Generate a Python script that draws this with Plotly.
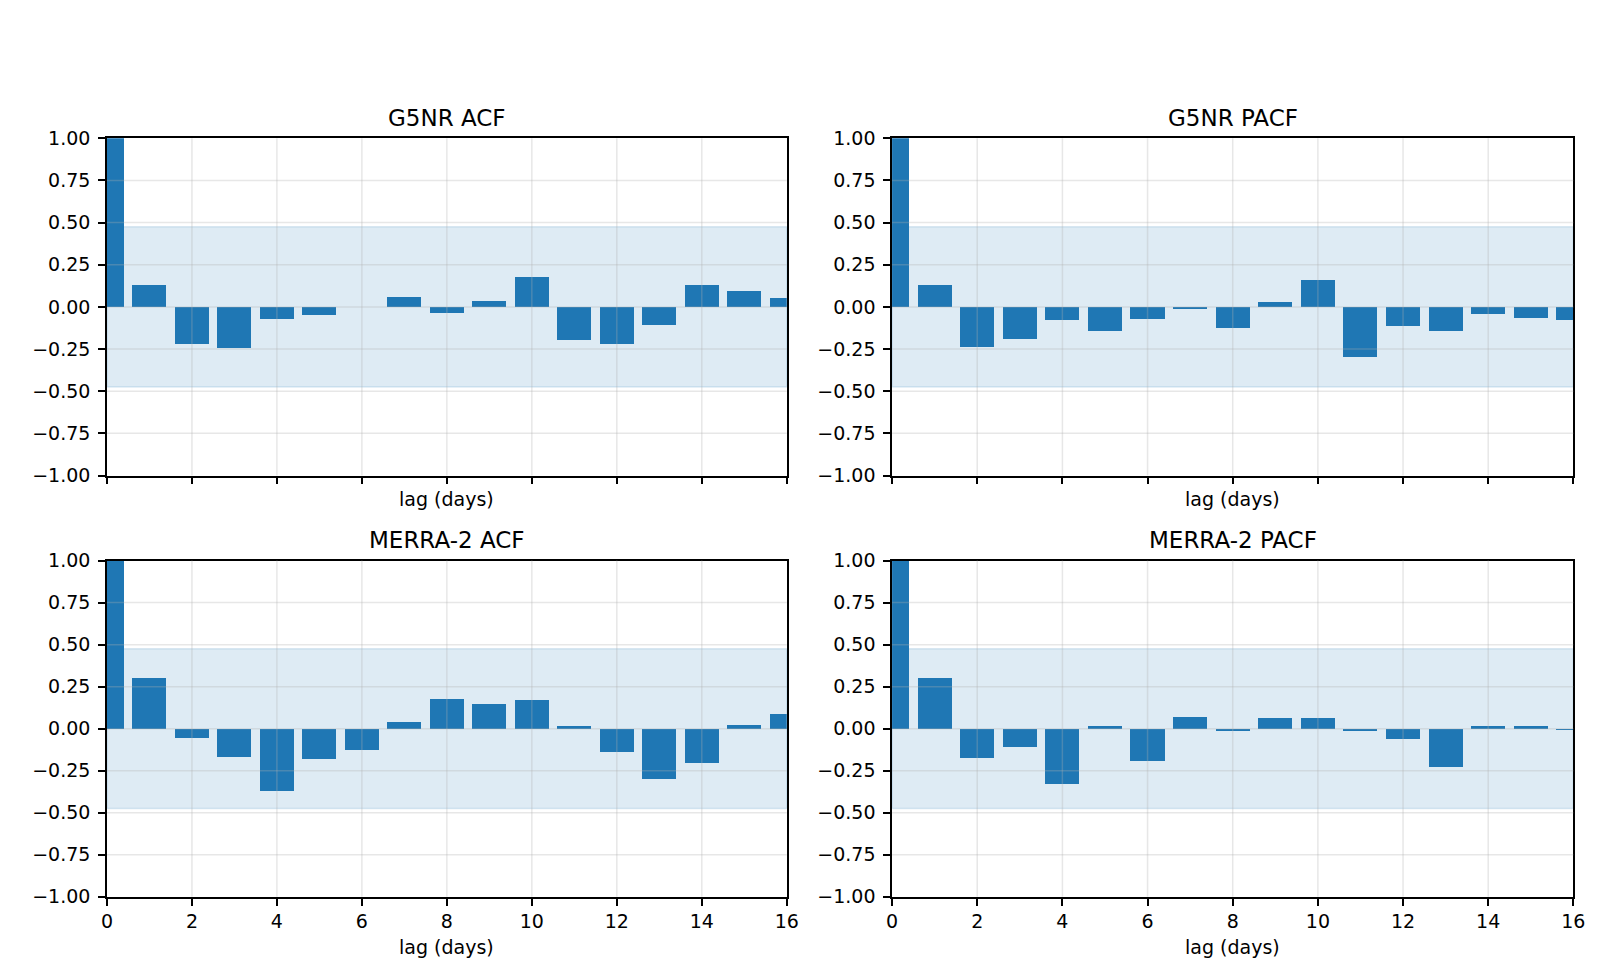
import plotly.graph_objects as go

# ---- data ----
lags = list(range(17))
g5nr_acf = [1.0, 0.126, -0.220, -0.244, -0.075, -0.052, 0.0, 0.056, -0.035, 0.033,
            0.178, -0.197, -0.220, -0.110, 0.126, 0.091, 0.050]
g5nr_pacf = [1.0, 0.126, -0.238, -0.191, -0.081, -0.145, -0.075, -0.017, -0.128, 0.027,
             0.155, -0.296, -0.116, -0.145, -0.046, -0.070, -0.078]
merra_acf = [1.0, 0.307, -0.052, -0.163, -0.367, -0.175, -0.122, 0.045, 0.178, 0.149,
             0.173, 0.016, -0.134, -0.297, -0.204, 0.027, 0.091]
merra_pacf = [1.0, 0.307, -0.169, -0.105, -0.326, 0.016, -0.192, 0.074, -0.012, 0.068,
              0.068, -0.006, -0.058, -0.227, 0.021, 0.021, -0.005]
conf_level = 0.475
titles = ["G5NR ACF", "G5NR PACF", "MERRA-2 ACF", "MERRA-2 PACF"]
series = [g5nr_acf, g5nr_pacf, merra_acf, merra_pacf]
x_ticks = [0, 2, 4, 6, 8, 10, 12, 14, 16]
y_ticks = [-1.0, -0.75, -0.5, -0.25, 0.0, 0.25, 0.5, 0.75, 1.0]
y_tick_text = ["\u22121.00", "\u22120.75", "\u22120.50", "\u22120.25", "0.00", "0.25", "0.50", "0.75", "1.00"]
x_label = "lag (days)"

W, H = 1610, 980
# panel pixel boxes: (left, right, top, bottom)
boxes = [(94, 781.5, 122, 467), (888, 1577, 122, 467),
         (94, 781.5, 554, 898), (888, 1577, 554, 898)]

BLUE = "#1f77b4"
FONT = "DejaVu Sans"
TICK_SIZE = 19
TITLE_SIZE = 23

fig = go.Figure()
shapes = []
annotations = []
for i, (vals, title, box) in enumerate(zip(series, titles, boxes)):
    n = i + 1
    xa = "x" if n == 1 else f"x{n}"
    ya = "y" if n == 1 else f"y{n}"
    l, r, t, b = box
    fig.add_trace(go.Bar(x=lags, y=vals, width=0.8, marker=dict(color=BLUE, line=dict(width=0)),
                         xaxis=xa, yaxis=ya, showlegend=False))
    bottom_row = i >= 2
    xkey = "xaxis" if n == 1 else f"xaxis{n}"
    ykey = "yaxis" if n == 1 else f"yaxis{n}"
    fig.update_layout({
        xkey: dict(domain=[l / W, r / W], anchor=ya, range=[0, 16], tickvals=x_ticks,
                   showticklabels=bottom_row, ticks="outside", ticklen=7, tickwidth=1.5,
                   tickcolor="black", showline=True, linecolor="black", linewidth=1.5,
                   mirror=True, showgrid=False, zeroline=False,
                   tickfont=dict(family=FONT, size=TICK_SIZE, color="black")),
        ykey: dict(domain=[(H - b) / H, (H - t) / H], anchor=xa, range=[-1, 1],
                   tickvals=y_ticks, ticktext=y_tick_text, ticks="outside", ticklen=7,
                   tickwidth=1.5, tickcolor="black", showline=True, linecolor="black",
                   linewidth=1.5, mirror=True, showgrid=False, zeroline=False,
                   ticklabelstandoff=4,
                   tickfont=dict(family=FONT, size=TICK_SIZE, color="black")),
    })
    # confidence band
    shapes.append(dict(type="rect", xref=f"{xa} domain", yref=ya, x0=0, x1=1,
                       y0=-conf_level, y1=conf_level, layer="below",
                       fillcolor="rgba(31,119,180,0.15)",
                       line=dict(color="rgba(31,119,180,0.15)", width=1.5)))
    # grid lines on top
    for yv in y_ticks[1:-1]:
        shapes.append(dict(type="line", xref=f"{xa} domain", yref=ya, x0=0, x1=1, y0=yv, y1=yv,
                           layer="above", line=dict(color="rgba(176,176,176,0.3)", width=1.5)))
    for xv in x_ticks[1:-1]:
        shapes.append(dict(type="line", xref=xa, yref=f"{ya} domain", x0=xv, x1=xv, y0=0, y1=1,
                           layer="above", line=dict(color="rgba(176,176,176,0.3)", width=1.5)))
    # title
    annotations.append(dict(text=title, xref="paper", yref="paper", x=(l + r) / 2 / W,
                            y=(H - (t - 21)) / H, xanchor="center", yanchor="middle",
                            showarrow=False, font=dict(family=FONT, size=TITLE_SIZE, color="black")))
    # x label
    ly = 949 if bottom_row else 491
    annotations.append(dict(text=x_label, xref="paper", yref="paper", x=(l + r) / 2 / W,
                            y=(H - ly) / H, xanchor="center", yanchor="middle",
                            showarrow=False, font=dict(family=FONT, size=TICK_SIZE, color="black")))

fig.update_layout(width=W, height=H, margin=dict(l=0, r=0, t=0, b=0),
                  paper_bgcolor="white", plot_bgcolor="white",
                  shapes=shapes, annotations=annotations, bargap=0,
                  font=dict(family=FONT))
fig.write_html("out.html")
